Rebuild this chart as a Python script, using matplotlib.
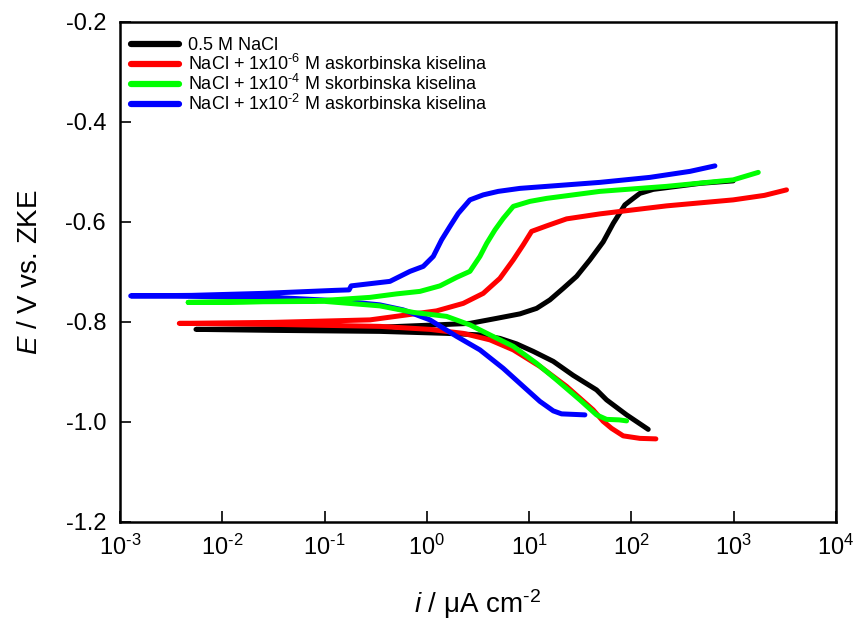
import matplotlib
matplotlib.use("Agg")

import numpy as np
import matplotlib.pyplot as plt

plt.rcParams["font.family"] = ["Liberation Sans", "DejaVu Sans"]
plt.rcParams["mathtext.fontset"] = "custom"
plt.rcParams["mathtext.rm"] = "Liberation Sans"
plt.rcParams["mathtext.it"] = "Liberation Sans:italic"
plt.rcParams["mathtext.default"] = "regular"
plt.rcParams["axes.unicode_minus"] = False

# log10(i / uA cm-2) and E / V
# each curve: cathodic branch (high i -> low i), then anodic branch
black_logi = [2.164, 1.953, 1.757, 1.659, 1.431, 1.236, 1.04, 0.877, 0.714, 0.519, 0.193, -0.459, -1.5, -2.257,
              -1.5, -0.5, 0.095, 0.421, 0.681, 0.91, 1.073, 1.203, 1.333, 1.464, 1.594, 1.724, 1.822, 1.936,
              2.018, 2.083, 2.213, 2.67, 2.995]
black_E = [-1.015, -0.986, -0.956, -0.936, -0.907, -0.879, -0.859, -0.844, -0.833, -0.826, -0.823, -0.819, -0.817, -0.815,
           -0.814, -0.811, -0.806, -0.803, -0.793, -0.784, -0.773, -0.756, -0.733, -0.709, -0.676, -0.640, -0.603, -0.566,
           -0.553, -0.543, -0.535, -0.523, -0.518]

red_logi = [2.239, 2.083, 1.92, 1.806, 1.724, 1.626, 1.366, 1.105, 0.845, 0.617, 0.356, 0.03, -0.459, -1.5, -2.42,
            -1.5, -0.556, -0.231, 0.095, 0.356, 0.551, 0.714, 0.845, 0.942, 1.024, 1.171, 1.366, 1.692, 2.343, 2.995,
            3.3, 3.516]
red_E = [-1.034, -1.033, -1.028, -1.013, -0.999, -0.976, -0.929, -0.889, -0.856, -0.836, -0.823, -0.815, -0.809, -0.805, -0.803,
         -0.801, -0.796, -0.787, -0.778, -0.763, -0.743, -0.713, -0.676, -0.646, -0.619, -0.608, -0.594, -0.584, -0.568, -0.556,
         -0.547, -0.536]

green_logi = [1.953, 1.88, 1.757, 1.659, 1.496, 1.268, 1.073, 0.845, 0.617, 0.421, 0.193, -0.133, -0.459, -1.0, -1.8, -2.333,
              -1.8, -1.0, -0.556, -0.295, -0.067, 0.128, 0.291, 0.421, 0.519, 0.585, 0.666, 0.747, 0.845, 1.008, 1.171,
              1.692, 2.343, 2.995, 3.24]
green_E = [-0.998, -0.996, -0.995, -0.986, -0.956, -0.916, -0.883, -0.849, -0.826, -0.806, -0.789, -0.781, -0.768, -0.759, -0.760, -0.761,
           -0.760, -0.757, -0.751, -0.744, -0.739, -0.728, -0.711, -0.699, -0.669, -0.643, -0.616, -0.593, -0.569, -0.559, -0.553,
           -0.539, -0.529, -0.516, -0.501]

blue_logi = [1.545, 1.317, 1.236, 1.105, 0.942, 0.747, 0.519, 0.291, 0.03, -0.231, -0.459, -0.85, -1.5, -2.3, -2.895,
             -2.3, -1.6, -0.9, -0.76, -0.74, -0.361, -0.165, -0.035, 0.063, 0.144, 0.226, 0.307, 0.421, 0.551, 0.698,
             0.91, 1.692, 2.18, 2.572, 2.816]
blue_E = [-0.986, -0.984, -0.978, -0.959, -0.929, -0.893, -0.856, -0.829, -0.796, -0.776, -0.766, -0.758, -0.751, -0.749, -0.748,
          -0.747, -0.743, -0.737, -0.736, -0.728, -0.719, -0.699, -0.689, -0.669, -0.636, -0.609, -0.583, -0.556, -0.546, -0.539,
          -0.533, -0.521, -0.511, -0.499, -0.488]

labels = ["0.5 M NaCl",
          "NaCl + 1x10$^{\\text{-}6}$ M askorbinska kiselina",
          "NaCl + 1x10$^{\\text{-}4}$ M skorbinska kiselina",
          "NaCl + 1x10$^{\\text{-}2}$ M askorbinska kiselina"]

x_exps = [-3, -2, -1, 0, 1, 2, 3, 4]
y_ticks = [-1.2, -1.0, -0.8, -0.6, -0.4, -0.2]

fig = plt.figure(figsize=(8.57, 6.25), dpi=100)
ax = fig.add_axes([0.140, 0.165, 0.8355, 0.80])

lw = 3.6
h_black, = ax.plot(10 ** np.array(black_logi), black_E, color="black", lw=lw, solid_capstyle="round", solid_joinstyle="round")
h_red, = ax.plot(10 ** np.array(red_logi), red_E, color="#ff0000", lw=lw, solid_capstyle="round", solid_joinstyle="round")
h_blue, = ax.plot(10 ** np.array(blue_logi), blue_E, color="#0000ff", lw=lw, solid_capstyle="round", solid_joinstyle="round")
h_green, = ax.plot(10 ** np.array(green_logi), green_E, color="#00ff00", lw=lw, solid_capstyle="round", solid_joinstyle="round")

ax.set_xscale("log")
ax.set_xlim(1e-3, 1e4)
ax.set_ylim(-1.2, -0.2)
ax.set_xticks([10.0 ** e for e in x_exps])
ax.set_xticklabels(["$10^{%s}$" % (str(e).replace("-", "\\text{-}")) for e in x_exps])
ax.minorticks_off()
ax.set_yticks(y_ticks)
ax.set_yticklabels(["%.1f" % v for v in y_ticks])

ax.tick_params(axis="both", direction="in", length=8, width=1.2, labelsize=17)
ax.tick_params(axis="y", pad=10)
ax.tick_params(axis="x", pad=9)
for s in ax.spines.values():
    s.set_linewidth(1.8)

ax.set_xlabel("$\\mathit{i}$ / μA cm$^{\\text{-}2}$", fontsize=20, labelpad=20)
ax.set_ylabel("$\\mathit{E}$ / V vs. ZKE", fontsize=20, labelpad=16)

leg = ax.legend([h_black, h_red, h_green, h_blue], labels, loc="upper left",
                bbox_to_anchor=(0.015, 0.97), frameon=False, fontsize=13,
                handlelength=2.7, handletextpad=0.45, labelspacing=0.0,
                borderpad=0, borderaxespad=0)
for line in leg.get_lines():
    line.set_linewidth(4.5)

fig.savefig("out.png", dpi=100)
